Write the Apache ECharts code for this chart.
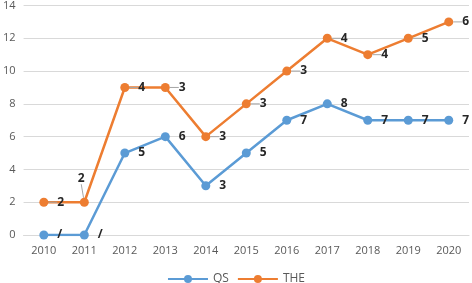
<!DOCTYPE html>
<html>
<head>
<meta charset="utf-8">
<script src="https://cdn.jsdelivr.net/npm/echarts@6/dist/echarts.min.js"></script>
<style>
  html, body { margin: 0; padding: 0; background: #fff; }
  #chart { width: 472px; height: 283px; }
</style>
</head>
<body>
<div id="chart"></div>
<script>
// 数据
const years = ['2010', '2011', '2012', '2013', '2014', '2015', '2016', '2017', '2018', '2019', '2020']
const qsValues = [0, 0, 5, 6, 3, 5, 7, 8, 7, 7, 7]
const qsLabels = ['/', '/', '5', '6', '3', '5', '7', '8', '7', '7', '7']
const theValues = [2, 2, 9, 9, 6, 8, 10, 12, 11, 12, 13]
const theLabels = ['2', '2', '4', '3', '3', '3', '3', '4', '4', '5', '6']

const font = '"Open Sans", "Liberation Sans", sans-serif'

const labelStyle = {
  show: true,
  position: 'right',
  distance: 9,
  color: '#262626',
  fontSize: 12,
  fontWeight: 'bold',
  fontFamily: font
}

const chart = echarts.init(document.getElementById('chart'))
chart.setOption({
  animation: false,
  grid: { left: 22, right: 3, top: 5, bottom: 48 },
  legend: {
    top: 268,
    left: 'center',
    itemWidth: 40,
    itemHeight: 10,
    itemGap: 8,
    textStyle: { color: '#595959', fontSize: 12, fontFamily: font },
    data: ['QS', 'THE']
  },
  xAxis: {
    type: 'category',
    data: years,
    axisLine: { lineStyle: { color: '#D9D9D9' } },
    axisTick: { show: false },
    axisLabel: { color: '#595959', fontSize: 11, fontFamily: font, margin: 10 }
  },
  yAxis: {
    type: 'value',
    min: 0,
    max: 14,
    interval: 2,
    axisLabel: { color: '#595959', fontSize: 11, fontFamily: font, margin: 8 },
    splitLine: { lineStyle: { color: '#D9D9D9' } }
  },
  series: [
    {
      name: 'QS',
      type: 'line',
      data: qsValues,
      color: '#5B9BD5',
      lineStyle: { width: 2.5 },
      symbol: 'circle',
      symbolSize: 9,
      label: {
        ...labelStyle,
        formatter: p => qsLabels[p.dataIndex]
      }
    },
    {
      name: 'THE',
      type: 'line',
      data: theValues,
      color: '#ED7D31',
      lineStyle: { width: 2.5 },
      symbol: 'circle',
      symbolSize: 9,
      label: {
        ...labelStyle,
        formatter: p => theLabels[p.dataIndex]
      },
      labelLine: { show: true, lineStyle: { color: '#A6A6A6' } },
      labelLayout: p => p.dataIndex === 1 ? { dx: -20, dy: -24 } : {}
    }
  ]
})
</script>
</body>
</html>
